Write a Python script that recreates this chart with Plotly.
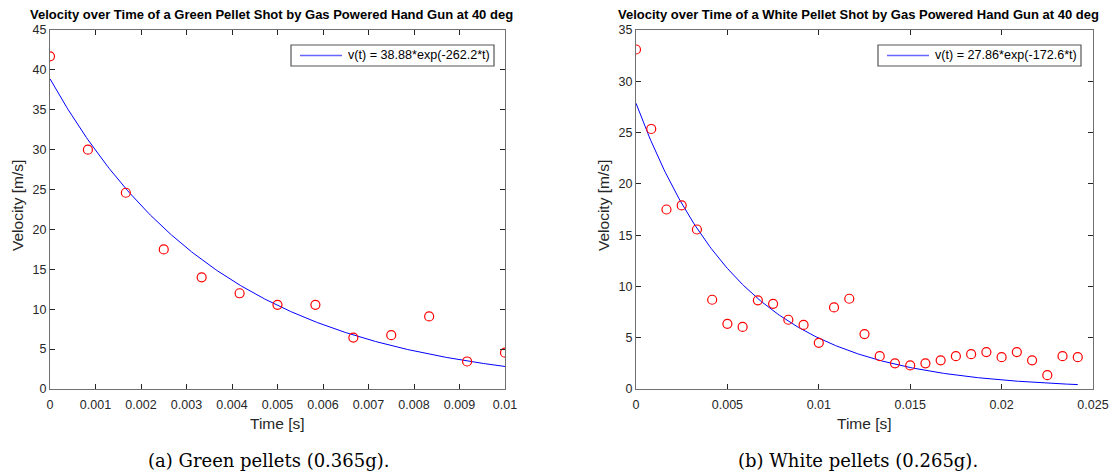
import numpy as np
import plotly.graph_objects as go

W, H = 1119, 475

# Measured samples (dt = 1/1200 s)
green_t = [0.0, 0.000833, 0.001667, 0.0025, 0.003333, 0.004167, 0.005,
           0.005833, 0.006667, 0.0075, 0.008333, 0.009167, 0.01]
green_v = [41.7, 30.0, 24.6, 17.5, 14.0, 12.0, 10.55, 10.55, 6.45, 6.75, 9.1, 3.45, 4.55]

white_t = [0.0, 0.000833, 0.001667, 0.0025, 0.003333, 0.004167, 0.005, 0.005833,
           0.006667, 0.0075, 0.008333, 0.009167, 0.01, 0.010833, 0.011667, 0.0125,
           0.013333, 0.014167, 0.015, 0.015833, 0.016667, 0.0175, 0.018333, 0.019167,
           0.02, 0.020833, 0.021667, 0.0225, 0.023333, 0.024167]
white_v = [33.1, 25.35, 17.5, 17.9, 15.55, 8.7, 6.35, 6.05, 8.65, 8.3, 6.75, 6.25,
           4.5, 7.95, 8.8, 5.35, 3.2, 2.5, 2.3, 2.5, 2.8, 3.2, 3.4, 3.6, 3.1, 3.6,
           2.8, 1.35, 3.2, 3.1]

# Exponential fit coefficients v(t) = A*exp(-k*t)
green_fit = (38.88, 262.2)
white_fit = (27.86, 172.6)

green_xticks = [0, 0.001, 0.002, 0.003, 0.004, 0.005, 0.006, 0.007, 0.008, 0.009, 0.01]
green_xlabels = ["0", "0.001", "0.002", "0.003", "0.004", "0.005", "0.006", "0.007", "0.008", "0.009", "0.01"]
green_yticks = [0, 5, 10, 15, 20, 25, 30, 35, 40, 45]
white_xticks = [0, 0.005, 0.01, 0.015, 0.02, 0.025]
white_xlabels = ["0", "0.005", "0.01", "0.015", "0.02", "0.025"]
white_yticks = [0, 5, 10, 15, 20, 25, 30, 35]

titles = ["Velocity over Time of a Green Pellet Shot by Gas Powered Hand Gun at 40 deg",
          "Velocity over Time of a White Pellet Shot by Gas Powered Hand Gun at 40 deg"]
captions = ["(a) Green pellets (0.365g).", "(b) White pellets (0.265g)."]

AX_COL = "#262626"
LINE_COL = "#707070"
FONT = "Liberation Sans, Arial, sans-serif"


def px_x(p):
    return p / W


def px_y(p):
    return 1 - p / H


# panel pixel boxes: left, right, top, bottom
boxes = [(50, 505, 30, 389), (636, 1093, 30, 389)]
# legend boxes: left, right, top, bottom
legend_boxes = [(291, 494, 45, 66), (878, 1081, 45, 66)]

fig = go.Figure()

panels = [
    (green_t, green_v, green_fit, 0.01, green_xticks, green_xlabels, 45, green_yticks),
    (white_t, white_v, white_fit, 0.024167, white_xticks, white_xlabels, 35, white_yticks),
]

for i, (t, v, fit, tmax, xt, xl, ymax, yt) in enumerate(panels):
    xa = "x" if i == 0 else "x2"
    ya = "y" if i == 0 else "y2"
    A, k = fit
    tt = np.linspace(0, tmax, 300)
    fig.add_trace(go.Scatter(
        x=tt, y=A * np.exp(-k * tt), mode="lines",
        line=dict(color="#0000FF", width=1),
        xaxis=xa, yaxis=ya, showlegend=False))
    fig.add_trace(go.Scatter(
        x=t, y=v, mode="markers",
        marker=dict(symbol="circle-open", size=9, color="#FF0000", line=dict(width=1.2)),
        xaxis=xa, yaxis=ya, showlegend=False))

    l, r, tp, b = boxes[i]
    axis_common = dict(
        showline=True, linecolor=LINE_COL, linewidth=1.2, mirror="allticks",
        ticks="inside", ticklen=5, tickcolor=AX_COL, tickwidth=1,
        showgrid=False, zeroline=False, automargin=False,
        tickfont=dict(family=FONT, size=12.5, color=AX_COL),
    )
    xkey = "xaxis" if i == 0 else "xaxis2"
    ykey = "yaxis" if i == 0 else "yaxis2"
    fig.update_layout({
        xkey: dict(axis_common, domain=[px_x(l), px_x(r)],
                   range=[0, xt[-1]], tickvals=xt, ticktext=xl,
                   anchor=ya, ticklabelstandoff=4),
        ykey: dict(axis_common, domain=[px_y(b), px_y(tp)],
                   range=[0, ymax], tickvals=yt, anchor=xa),
    })

    cx = (l + r) / 2
    # title
    fig.add_annotation(text=f"<b>{titles[i]}</b>", x=px_x(cx - 6), y=px_y(14),
                       xref="paper", yref="paper", showarrow=False,
                       font=dict(family=FONT, size=13, color="#000000"),
                       xanchor="center", yanchor="middle")
    # axis titles
    fig.add_annotation(text="Time [s]", x=px_x(cx), y=px_y(423),
                       xref="paper", yref="paper", showarrow=False,
                       font=dict(family=FONT, size=15.5, color=AX_COL),
                       xanchor="center", yanchor="middle")
    fig.add_annotation(text="Velocity [m/s]", x=px_x(l - 32.5), y=px_y((tp + b) / 2 - 4),
                       xref="paper", yref="paper", showarrow=False, textangle=-90,
                       font=dict(family=FONT, size=15.5, color=AX_COL),
                       xanchor="center", yanchor="middle")
    # caption
    fig.add_annotation(text=captions[i], x=px_x(268 if i == 0 else 858), y=px_y(460),
                       xref="paper", yref="paper", showarrow=False,
                       font=dict(family="DejaVu Serif, serif", size=18, color="#000000"),
                       xanchor="center", yanchor="middle")

    # legend box with line sample and fit equation
    ll, lr, lt, lb = legend_boxes[i]
    ym = (lt + lb) / 2
    fig.add_shape(type="rect", xref="paper", yref="paper",
                  x0=px_x(ll), x1=px_x(lr), y0=px_y(lb), y1=px_y(lt),
                  line=dict(color="#555555", width=1.2), fillcolor="#FFFFFF", layer="above")
    fig.add_shape(type="line", xref="paper", yref="paper",
                  x0=px_x(ll + 9), x1=px_x(ll + 51), y0=px_y(ym), y1=px_y(ym),
                  line=dict(color="#6666FF", width=1.3), layer="above")
    fig.add_annotation(text=f"v(t) = {A:.2f}*exp(-{k:.1f}*t)", x=px_x(ll + 55), y=px_y(ym),
                       xref="paper", yref="paper", showarrow=False,
                       font=dict(family=FONT, size=12.6, color="#000000"),
                       xanchor="left", yanchor="middle")

fig.update_layout(
    width=W, height=H,
    margin=dict(l=0, r=0, t=0, b=0),
    paper_bgcolor="#FFFFFF", plot_bgcolor="#FFFFFF",
    showlegend=False,
)

fig.write_html("out.html")
